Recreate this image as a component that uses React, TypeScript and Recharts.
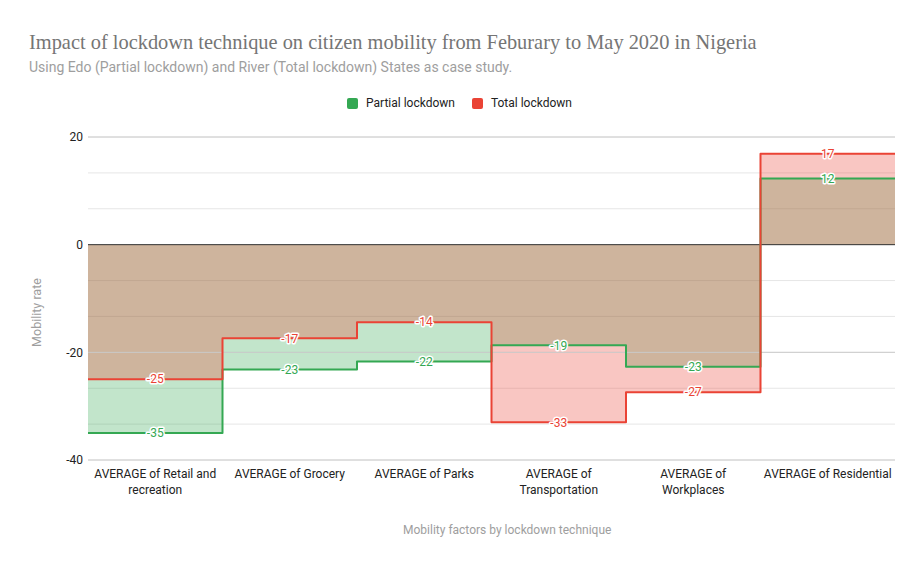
import React from 'react';
import {
  ComposedChart,
  Area,
  Line,
  XAxis,
  YAxis,
  CartesianGrid,
  ReferenceLine,
  ReferenceDot,
} from 'recharts';

// mobility factors (one band each)
const categories = [
  'AVERAGE of Retail and recreation',
  'AVERAGE of Grocery',
  'AVERAGE of Parks',
  'AVERAGE of Transportation',
  'AVERAGE of Workplaces',
  'AVERAGE of Residential',
];
// how the tick labels wrap under each band
const tickLines = [
  ['AVERAGE of Retail and', 'recreation'],
  ['AVERAGE of Grocery'],
  ['AVERAGE of Parks'],
  ['AVERAGE of', 'Transportation'],
  ['AVERAGE of', 'Workplaces'],
  ['AVERAGE of Residential'],
];
// Edo State
const partialLockdown = [-35, -23.2, -21.7, -18.7, -22.7, 12.3];
// River State
const totalLockdown = [-25, -17.4, -14.4, -33, -27.4, 16.9];

const majorTicks = [20, 0, -20, -40];
const gridTicks = [20, 13.33, 6.67, 0, -6.67, -13.33, -20, -26.67, -33.33, -40];

const GREEN = '#34a853';
const RED = '#ea4335';
const FONT = 'Roboto, Arial, sans-serif';

// stepAfter needs a closing point at the right edge of the last band
const data = categories.map((name, i) => ({
  x: i,
  name,
  partial: partialLockdown[i],
  total: totalLockdown[i],
}));
data.push({
  x: categories.length,
  name: '',
  partial: partialLockdown[partialLockdown.length - 1],
  total: totalLockdown[totalLockdown.length - 1],
});

const CategoryTick = (props: any) => {
  const { x, y, payload } = props;
  const lines = tickLines[Math.floor(payload.value)] || [];
  return (
    <text x={x} y={y} textAnchor="middle" fontSize={12} fill="#222" fontFamily={FONT}>
      {lines.map((l, i) => (
        <tspan key={i} x={x} dy={i === 0 ? '0.71em' : 16}>
          {l}
        </tspan>
      ))}
    </text>
  );
};

const valueLabel = (color: string, value: number) => (props: any) => {
  const vb = props.viewBox;
  const cx = vb.x + vb.width / 2;
  const cy = vb.y + vb.height / 2;
  return (
    <text
      x={cx}
      y={cy}
      dy="0.35em"
      textAnchor="middle"
      fontSize={12}
      fontFamily={FONT}
      fill={color}
      stroke="#fff"
      strokeWidth={3}
      strokeLinejoin="round"
      paintOrder="stroke"
    >
      {Math.round(value)}
    </text>
  );
};

const LegendItem = ({ color, label, last }: { color: string; label: string; last?: boolean }) => (
  <span style={{ display: 'inline-flex', alignItems: 'center', marginRight: last ? 0 : 17 }}>
    <span
      style={{
        display: 'inline-block',
        width: 11,
        height: 11,
        borderRadius: 2,
        background: color,
        marginRight: 8,
      }}
    />
    <span>{label}</span>
  </span>
);

export default function App() {
  return (
    <div style={{ position: 'absolute', left: 0, top: 0, width: 924, height: 571, background: '#fff' }}>
      <div
        style={{
          position: 'absolute',
          left: 29,
          top: 31,
          fontFamily: '"Liberation Serif", serif',
          fontSize: 20.4,
          color: '#757575',
          whiteSpace: 'nowrap',
        }}
      >
        Impact of lockdown technique on citizen mobility from Feburary to May 2020 in Nigeria
      </div>
      <div
        style={{
          position: 'absolute',
          left: 29,
          top: 59,
          fontFamily: FONT,
          fontSize: 14,
          color: '#9e9e9e',
          whiteSpace: 'nowrap',
        }}
      >
        Using Edo (Partial lockdown) and River (Total lockdown) States as case study.
      </div>
      <div
        style={{
          position: 'absolute',
          left: 347,
          top: 96,
          fontFamily: FONT,
          fontSize: 12,
          color: '#222',
          whiteSpace: 'nowrap',
          display: 'flex',
          alignItems: 'center',
        }}
      >
        <LegendItem color={GREEN} label="Partial lockdown" />
        <LegendItem color={RED} label="Total lockdown" last />
      </div>
      <div
        style={{
          position: 'absolute',
          left: 403,
          top: 523,
          fontFamily: FONT,
          fontSize: 12,
          color: '#9e9e9e',
          whiteSpace: 'nowrap',
        }}
      >
        Mobility factors by lockdown technique
      </div>

      <ComposedChart
        width={924}
        height={571}
        data={data}
        margin={{ top: 137, right: 29, bottom: 0, left: 0 }}
      >
        <CartesianGrid vertical={false} stroke="#e6e6e6" />
        <XAxis
          type="number"
          dataKey="x"
          domain={[0, categories.length]}
          ticks={categories.map((_, i) => i + 0.5)}
          interval={0}
          height={111}
          axisLine={false}
          tickLine={false}
          tickSize={0}
          tickMargin={9}
          tick={<CategoryTick />}
        />
        <YAxis
          type="number"
          domain={[-40, 20]}
          ticks={gridTicks}
          interval={0}
          width={88}
          axisLine={false}
          tickLine={false}
          tickSize={0}
          tickMargin={5}
          tick={{ fontSize: 12, fill: '#222', fontFamily: FONT }}
          tickFormatter={(v: number) => (majorTicks.includes(v) ? String(v) : '')}
          label={(p: any) => {
            const cy = p.viewBox.y + p.viewBox.height / 2 + 14;
            return (
              <text
                x={37}
                y={cy}
                transform={`rotate(-90 37 ${cy})`}
                textAnchor="middle"
                dy="0.35em"
                fontSize={12.5}
                fontFamily={FONT}
                fill="#9e9e9e"
              >
                Mobility rate
              </text>
            );
          }}
        />
        {majorTicks
          .filter((t) => t !== 0)
          .map((t) => (
            <ReferenceLine key={t} y={t} stroke="#cccccc" />
          ))}
        <Area
          type="stepAfter"
          dataKey="partial"
          stroke="none"
          fill={GREEN}
          fillOpacity={0.3}
          isAnimationActive={false}
          dot={false}
          activeDot={false}
        />
        <Area
          type="stepAfter"
          dataKey="total"
          stroke="none"
          fill={RED}
          fillOpacity={0.3}
          isAnimationActive={false}
          dot={false}
          activeDot={false}
        />
        <ReferenceLine y={0} stroke="#333333" />
        <Line
          type="stepAfter"
          dataKey="partial"
          stroke={GREEN}
          strokeWidth={2}
          strokeLinejoin="round"
          dot={false}
          activeDot={false}
          isAnimationActive={false}
        />
        <Line
          type="stepAfter"
          dataKey="total"
          stroke={RED}
          strokeWidth={2}
          strokeLinejoin="round"
          dot={false}
          activeDot={false}
          isAnimationActive={false}
        />
        {partialLockdown.map((v, i) => (
          <ReferenceDot
            key={'p' + i}
            x={i + 0.5}
            y={v}
            r={2}
            fill="none"
            stroke="none"
            label={valueLabel(GREEN, v)}
          />
        ))}
        {totalLockdown.map((v, i) => (
          <ReferenceDot
            key={'t' + i}
            x={i + 0.5}
            y={v}
            r={2}
            fill="none"
            stroke="none"
            label={valueLabel(RED, v)}
          />
        ))}
      </ComposedChart>
    </div>
  );
}
